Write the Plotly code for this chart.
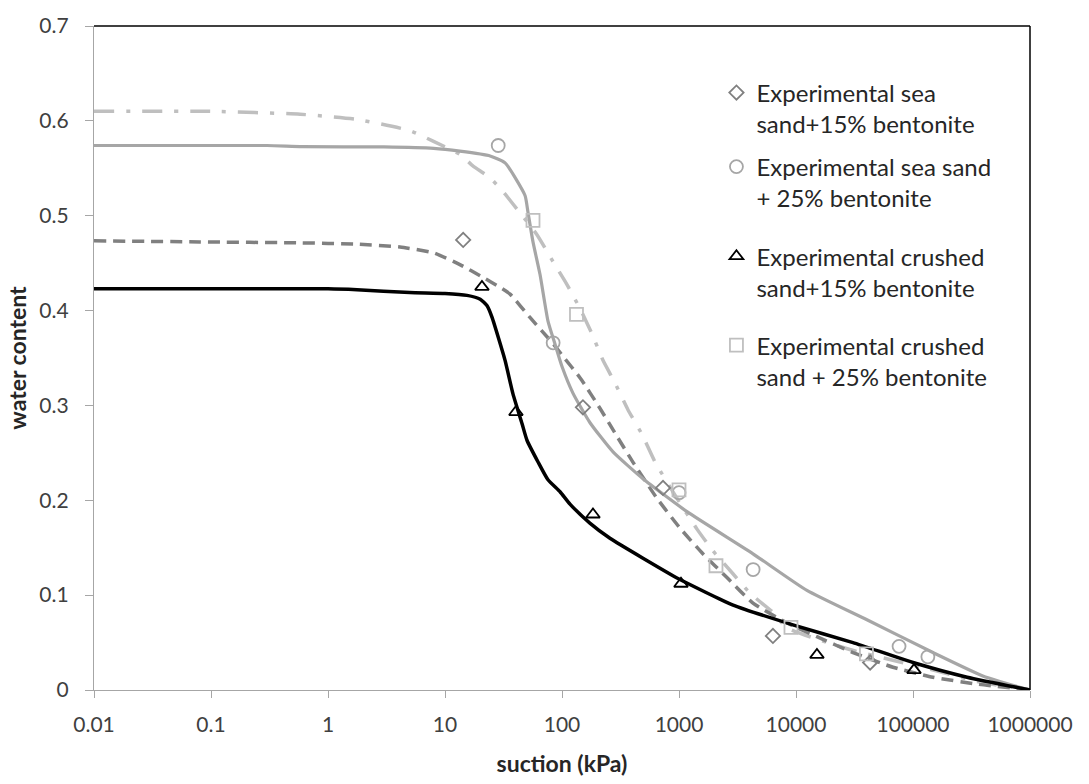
import plotly.graph_objects as go

# ---- measured points (suction in kPa, gravimetric water content) ----
sea15_x = [14.3, 151, 730, 6350, 43000]
sea15_y = [0.4745, 0.298, 0.213, 0.057, 0.029]

sea25_x = [28.5, 84, 1000, 4300, 76000, 134000]
sea25_y = [0.574, 0.366, 0.208, 0.127, 0.046, 0.035]

crushed15_x = [20.7, 40.4, 184, 1040, 15100, 102000]
crushed15_y = [0.425, 0.293, 0.185, 0.112, 0.037, 0.021]

crushed25_x = [56.5, 133, 1000, 2070, 9060, 40000]
crushed25_y = [0.495, 0.396, 0.211, 0.131, 0.066, 0.038]

# ---- fitted retention curves ----
fit_sea15_x = [0.01, 0.08, 0.58, 1.77, 4.12, 7.9, 13.4, 21.1, 29.5, 36, 53, 84, 102,
               143, 211, 300, 405, 649, 1020, 1600, 2570, 4290, 8380, 15100, 30700,
               67400, 148000, 352000, 1000000]
fit_sea15_y = [0.4735, 0.4724, 0.4714, 0.470, 0.467, 0.461, 0.4485, 0.435, 0.4245, 0.4173,
               0.393, 0.365, 0.3517, 0.329, 0.297, 0.266, 0.240, 0.202, 0.1707, 0.1436,
               0.1186, 0.0916, 0.0708, 0.0562, 0.0395, 0.024, 0.0135, 0.0062, 0.0]

fit_sea25_x = [0.01, 0.3, 0.6, 3, 8, 13.4, 24.3, 32.6, 48.3, 51.2, 56.5, 64.9, 75.9, 87,
               100, 124, 173, 273, 492, 1170, 4290, 12400, 40400, 148000, 400000, 1000000]
fit_sea25_y = [0.574, 0.574, 0.5728, 0.5725, 0.571, 0.568, 0.563, 0.5557, 0.5213, 0.5036,
               0.4724, 0.438, 0.389, 0.365, 0.341, 0.313, 0.282, 0.251, 0.2227, 0.188,
               0.1436, 0.105, 0.074, 0.0395, 0.0146, 0.0]

fit_crushed15_x = [0.01, 1, 1.77, 5, 10, 15.4, 20, 22.9, 25.2, 32.6, 38.1, 45.5, 50.2, 62.4,
                   75.9, 96.2, 117, 173, 257, 492, 1000, 2900, 9400, 30700, 100000, 290000,
                   1000000]
fit_crushed15_y = [0.423, 0.423, 0.422, 0.419, 0.418, 0.416, 0.412, 0.405, 0.393, 0.3475,
                   0.3122, 0.281, 0.2633, 0.2404, 0.2216, 0.209, 0.196, 0.176, 0.160, 0.139,
                   0.117, 0.0895, 0.0687, 0.050, 0.029, 0.0135, 0.0]

fit_crushed25_x = [0.01, 0.1, 0.577, 1.77, 5, 7.9, 13.4, 17.3, 21.1, 24.3, 31.3, 43.8, 61.1,
                   83.8, 110, 143, 180, 224, 284, 366, 483, 624, 962, 1425, 1950, 2880, 4050,
                   6300, 8380, 28800, 140000, 372000, 1000000]
fit_crushed25_y = [0.61, 0.61, 0.607, 0.6015, 0.5897, 0.5786, 0.5647, 0.5525, 0.5453, 0.540,
                   0.5255, 0.503, 0.48, 0.4516, 0.4277, 0.4017, 0.3757, 0.3475, 0.3236,
                   0.2955, 0.2695, 0.2404, 0.202, 0.1696, 0.1467, 0.1228, 0.102, 0.0822,
                   0.0656, 0.0427, 0.022, 0.0083, 0.0]

x_tick_vals = [0.01, 0.1, 1, 10, 100, 1000, 10000, 100000, 1000000]
x_tick_text = ["0.01", "0.1", "1", "10", "100", "1000", "10000", "100000", "1000000"]
y_tick_vals = [0, 0.1, 0.2, 0.3, 0.4, 0.5, 0.6, 0.7]
y_tick_text = ["0", "0.1", "0.2", "0.3", "0.4", "0.5", "0.6", "0.7"]

FONT = "Lato"
fig = go.Figure()

curve_style = dict(mode="lines", showlegend=False, hoverinfo="skip",
                   line_shape="spline")
fig.add_trace(go.Scatter(x=fit_crushed25_x, y=fit_crushed25_y,
                         line=dict(color="#BFBFBF", width=3.5, dash="20px,12px,4px,12px",
                                   smoothing=0.5), **curve_style))
fig.add_trace(go.Scatter(x=fit_sea15_x, y=fit_sea15_y,
                         line=dict(color="#808080", width=3.5, dash="12px,7px",
                                   smoothing=0.5), **curve_style))
fig.add_trace(go.Scatter(x=fit_sea25_x, y=fit_sea25_y,
                         line=dict(color="#A6A6A6", width=3.2, smoothing=0.5), **curve_style))
fig.add_trace(go.Scatter(x=fit_crushed15_x, y=fit_crushed15_y,
                         line=dict(color="#000000", width=3.5, smoothing=0.5), **curve_style))

# each experimental series gets its own legend box so the entries can be spaced freely
marker_sets = [
    (sea15_x, sea15_y, "Experimental sea<br>sand+15% bentonite", "diamond-open", "#808080", 11, "legend", 0.933),
    (sea25_x, sea25_y, "Experimental sea sand<br>+ 25% bentonite", "circle-open", "#A6A6A6", 13, "legend2", 0.8215),
    (crushed15_x, crushed15_y, "Experimental crushed<br>sand+15% bentonite", "triangle-up-open", "#000000", 12, "legend3", 0.6866),
    (crushed25_x, crushed25_y, "Experimental crushed<br>sand + 25% bentonite", "square-open", "#BFBFBF", 13, "legend4", 0.5526),
]
legend_boxes = {}
for mx, my, name, sym, col, sz, leg, ly in marker_sets:
    fig.add_trace(go.Scatter(x=mx, y=my, mode="markers", name=name, legend=leg,
                             marker=dict(symbol=sym, size=sz, color=col,
                                         line=dict(color=col, width=1.8))))
    legend_boxes[leg] = dict(x=0.665, y=ly, xanchor="left", yanchor="top",
                             font=dict(family=FONT, size=24, color="#262626"),
                             valign="top", bgcolor="rgba(0,0,0,0)")

# black frame along the top and right of the plotting area
fig.add_shape(type="line", xref="paper", yref="paper", x0=0, x1=1, y0=1, y1=1,
              line=dict(color="#000000", width=1.5))
fig.add_shape(type="line", xref="paper", yref="paper", x0=1, x1=1, y0=0, y1=1,
              line=dict(color="#000000", width=1.5))

fig.update_layout(
    width=1089, height=784,
    margin=dict(l=94, r=59, t=18, b=93),
    paper_bgcolor="white", plot_bgcolor="white",
    font=dict(family=FONT, color="#404040"),
    xaxis=dict(type="log", range=[-2, 6], tickvals=x_tick_vals, ticktext=x_tick_text,
               showgrid=False, zeroline=False, showline=True, linecolor="#A6A6A6",
               linewidth=1.3, ticks="outside", ticklen=7, tickcolor="#A6A6A6",
               tickfont=dict(size=21, color="#404040"), ticklabelstandoff=9,
               title=dict(text="<b>suction (kPa)</b>", font=dict(size=23, color="#262626"),
                          standoff=20)),
    yaxis=dict(range=[0, 0.7], tickvals=y_tick_vals, ticktext=y_tick_text,
               showgrid=False, zeroline=False, showline=True, linecolor="#A6A6A6",
               linewidth=1.3, ticks="outside", ticklen=8, tickcolor="#A6A6A6",
               tickfont=dict(size=21, color="#404040"), ticklabelstandoff=12,
               title=dict(text="<b>water content</b>", font=dict(size=23, color="#262626"),
                          standoff=6)),
    **legend_boxes,
)

fig.write_html("out.html")
